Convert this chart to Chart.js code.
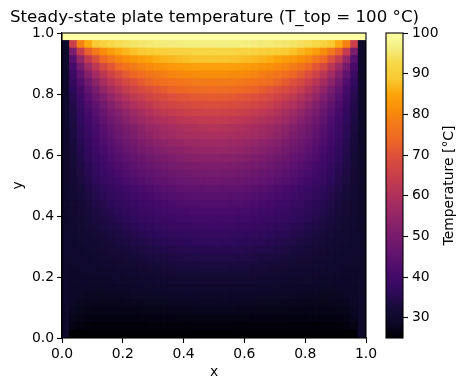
<!DOCTYPE html>
<html>
<head>
<meta charset="utf-8">
<style>
html,body{margin:0;padding:0;background:#fff;width:467px;height:390px;overflow:hidden}
canvas{position:absolute;left:0;top:0}
</style>
<script src="https://cdn.jsdelivr.net/npm/chart.js@4"></script>
</head>
<body>
<canvas id="plate" width="467" height="390"></canvas>
<canvas id="bar" width="467" height="390"></canvas>
<script>
// Values: one list per row (top to bottom), left half of the plate;
// the plate is mirror-symmetric about x = 0.5.
const r00=[100,100,100,100,100,100,100,100,100,100,100,100,100,100,100,100,100,100,100,100];
const r01=[30,65,79,85.5,89,91,92.5,93.3,94,94.6,95,95.3,95.6,95.8,96,96.2,96.4,96.4,96.5,96.5];
const r02=[30,50.5,64,72.5,77.5,81,83.5,85.5,86.8,87.9,88.9,89.5,90,90.5,91,91.3,91.4,91.6,91.7,91.7];
const r03=[30,44,55,63.5,69,73.7,76.9,79.5,81.2,82.7,83.7,85,85.8,86.5,87,87.4,87.8,88.1,88.2,88.3];
const r04=[30,40.7,49.2,57,62.5,67.3,70.8,73.8,76.4,77.8,79.5,80.4,81.5,82.1,82.8,83.3,83.7,83.9,84.1,84.2];
const r05=[30,38.6,45.5,52.4,57.5,62.1,65.8,68.8,71.5,73.5,75.1,76.7,77.7,78.6,79.5,80,80.5,80.7,81,81.1];
const r06=[30,37,42.8,48.7,53.5,58,61.7,64.9,67.5,69.8,71.6,73.1,74.6,75.4,76.2,76.7,77.3,77.6,77.8,77.9];
const r07=[30,36,40.8,46.1,50.1,54.6,58,61,63.8,65.9,68,69.3,70.8,71.9,72.8,73.5,74,74.3,74.5,74.7];
const r08=[30,35,39.2,43.8,47.6,51.4,54.7,57.7,60.3,62.7,64.4,65.9,67.4,68.4,69.5,70.3,70.6,71.2,71.5,71.6];
const r09=[30,34.5,38,42.1,45.5,49,52.1,54.8,57.5,59.6,61.6,63,64.6,65.8,66.8,67.4,67.9,68.4,68.7,68.8];
const r10=[30,34,36.8,40.7,43.6,46.9,49.8,52.3,54.6,56.9,58.4,60.2,61.5,62.8,63.6,64.5,65,65.6,65.8,66];
const r11=[30,33.6,36.5,39.9,42.4,45.5,48,50.3,52.5,54.6,56.2,57.7,59.1,60.1,61,61.7,62.3,62.9,63.3,63.5];
const r12=[30,33.2,35.9,38.8,41.1,43.7,46.3,48.5,50.4,52.2,54,55.3,56.6,57.6,58.5,59.3,59.9,60.3,60.7,60.8];
const r13=[30,32.9,35.7,38.3,40.8,43.2,45.6,47.5,49.5,50.9,52.7,54.1,55.5,56.4,57.2,57.8,58.4,58.8,59.1,59.2];
const r14=[30,32.7,35.2,37.5,39.8,41.9,44,45.9,47.9,49.2,50.8,52.1,53.1,54.1,54.9,55.6,56.2,56.5,56.8,56.9];
const r15=[30,32.4,34.7,36.8,38.9,40.9,42.9,44.6,46.3,47.7,49.1,50.3,51.3,52.3,53.1,53.6,54.2,54.6,54.9,55];
const r16=[30,32.2,34.2,36.2,38.1,39.8,41.7,43.3,44.7,46.1,47.3,48.5,49.5,50.4,51,51.7,52.3,52.6,52.9,53];
const r17=[30,32,33.8,35.6,37.3,39,40.6,42.1,43.4,44.6,46,47,47.8,48.6,49.4,49.9,50.4,50.7,51,51.1];
const r18=[30,31.8,33.5,35,36.7,38.2,39.6,40.9,42.2,43.4,44.5,45.5,46.4,47,47.7,48.2,48.7,49.1,49.3,49.4];
const r19=[30,31.7,33.2,34.6,36,37.4,38.7,40,41.1,42.2,43.2,44.1,44.8,45.7,46.3,46.8,47.2,47.5,47.7,47.8];
const r20=[30,31.3,32.5,33.8,35,36.1,37.3,38.3,39.3,40.4,41.2,42.1,42.9,43.6,44.1,44.7,45.1,45.4,45.6,45.7];
const r21=[30,31.1,32.3,33.4,34.5,35.5,36.6,37.5,38.4,39.4,40.1,40.9,41.6,42.3,42.8,43.3,43.6,44,44.1,44.2];
const r22=[30,31,32,32.9,33.9,34.9,35.8,36.6,37.4,38.3,39,39.7,40.3,40.9,41.4,41.8,42.2,42.4,42.6,42.7];
const r23=[30,30.9,31.7,32.6,33.4,34.3,35.1,35.8,36.6,37.3,38,38.7,39.2,39.7,40.2,40.5,40.8,41.1,41.2,41.3];
const r24=[30,30.7,31.5,32.2,33,33.7,34.5,35.1,35.8,36.4,37,37.6,38.1,38.5,38.9,39.3,39.5,39.8,39.9,39.9];
const r25=[30,30.6,31.2,31.9,32.5,33.2,33.8,34.3,35,35.5,36.1,36.6,37.1,37.5,37.8,38.2,38.3,38.6,38.7,38.8];
const r26=[30,30.4,31,31.5,32.1,32.5,33.1,33.6,34.1,34.6,35.1,35.6,36,36.3,36.6,36.9,37.1,37.3,37.4,37.5];
const r27=[30,30.3,30.7,31.1,31.5,32.1,32.5,33,33.4,33.9,34.3,34.7,35.1,35.4,35.6,35.9,36,36.2,36.3,36.4];
const r28=[30,30.1,30.4,30.8,31.1,31.6,32,32.3,32.7,33.1,33.5,33.8,34.1,34.4,34.6,34.9,35,35.1,35.3,35.3];
const r29=[30,29.9,30.2,30.4,30.7,31,31.3,31.7,32,32.3,32.6,32.9,33.2,33.4,33.7,33.8,34,34.2,34.2,34.2];
const r30=[30,29.7,29.9,30.1,30.3,30.5,30.7,31,31.2,31.5,31.8,32,32.3,32.5,32.7,32.9,32.9,33.1,33.2,33.2];
const r31=[30,29.6,29.6,29.7,29.8,29.9,30.2,30.3,30.5,30.8,31,31.2,31.4,31.6,31.8,31.9,32.1,32.1,32.2,32.2];
const r32=[30,29.4,29.3,29.3,29.4,29.4,29.6,29.7,29.8,30,30.2,30.4,30.6,30.7,30.9,31,31.1,31.2,31.3,31.2];
const r33=[30,29.2,29,28.9,28.8,28.9,29,29.1,29.2,29.4,29.5,29.7,29.9,29.9,30.1,30.1,30.2,30.3,30.4,30.4];
const r34=[30,29,28.6,28.4,28.3,28.2,28.3,28.4,28.5,28.6,28.8,28.8,28.9,29,29.2,29.2,29.3,29.3,29.4,29.4];
const r35=[30,28.7,28.1,27.9,27.8,27.7,27.7,27.7,27.8,27.9,28,28.1,28.1,28.2,28.3,28.3,28.4,28.5,28.5,28.5];
const r36=[30,28.3,27.6,27.3,27.1,27.1,27,27.1,27.1,27.1,27.2,27.3,27.3,27.4,27.4,27.5,27.5,27.6,27.6,27.6];
const r37=[30,27.6,26.9,26.6,26.4,26.4,26.4,26.4,26.4,26.4,26.5,26.5,26.6,26.6,26.6,26.7,26.7,26.7,26.7,26.7];
const r38=[30,26.8,26.1,25.8,25.7,25.7,25.7,25.7,25.7,25.7,25.7,25.8,25.8,25.8,25.8,25.8,25.8,25.9,25.9,25.9];
const r39=[30,25,25,25,25,25,25,25,25,25,25,25,25,25,25,25,25,25,25,25];
const rowsTopDown=[r00,r01,r02,r03,r04,r05,r06,r07,r08,r09,r10,r11,r12,r13,r14,r15,r16,r17,r18,r19,
                   r20,r21,r22,r23,r24,r25,r26,r27,r28,r29,r30,r31,r32,r33,r34,r35,r36,r37,r38,r39];
const axisTicks=[0,0.2,0.4,0.6,0.8,1];
const barTicks=[30,40,50,60,70,80,90,100];
const vmin=25, vmax=100;
const chartTitle="Steady-state plate temperature (T_top = 100 °C)";
const barLabel="Temperature [°C]";
const infernoStops=["#000004","#0c0826","#160b39","#2f0a5b","#420a68","#57106e","#6a176e","#7e1e6c","#932667","#a82e5f","#bc3754","#cf4446","#dd513a","#ed6925","#f37819","#f98e09","#fca50a","#f9c932","#f6d746","#f3ee80","#fcffa4"];

const FONT="'DejaVu Sans'";
function hex(c){return [1,3,5].map(k=>parseInt(c.substr(k,2),16));}
function inferno(t){
  t=Math.max(0,Math.min(1,t));
  const p=t*(infernoStops.length-1), i=Math.min(Math.floor(p),infernoStops.length-2), f=p-i;
  const a=hex(infernoStops[i]), b=hex(infernoStops[i+1]);
  return "rgb("+a.map((v,k)=>Math.round(v+(b[k]-v)*f)).join(",")+")";
}
const n=rowsTopDown.length;
const cells=[];
rowsTopDown.forEach((row,r)=>{
  const full=row.concat(row.slice().reverse());
  full.forEach((v,c)=>cells.push({x:(c+0.5)/n,y:1-(r+0.5)/n,v:v}));
});
const frame={id:"frame",afterDraw(ch){
  const a=ch.chartArea,c=ch.ctx;
  c.save();c.strokeStyle="#000";c.lineWidth=1.1;
  c.strokeRect(a.left,a.top,a.right-a.left,a.bottom-a.top);c.restore();
}};
const tickFont={family:FONT,size:13.9};
const cellRadius=ctx=>{const a=ctx.chart.chartArea;return a?((a.right-a.left)/n+1.1)/Math.SQRT2:5;};
new Chart(document.getElementById("plate"),{
  type:"scatter",
  data:{datasets:[{
    data:cells,
    clip:0,
    pointStyle:"rect",
    pointBorderWidth:0,
    pointRadius:cellRadius,
    pointHoverRadius:cellRadius,
    pointBackgroundColor(ctx){const d=ctx.raw;return d?inferno((d.v-vmin)/(vmax-vmin)):"#000";}
  }]},
  options:{
    responsive:false,animation:false,events:[],
    layout:{padding:{left:10,right:0,top:0,bottom:0}},
    plugins:{legend:{display:false},tooltip:{enabled:false},
      title:{display:true,text:chartTitle,align:"start",color:"#000",
        font:{family:FONT,size:16.67,weight:"normal"},padding:{top:8,bottom:5}}},
    scales:{
      x:{type:"linear",min:0,max:1,
        afterBuildTicks(s){s.ticks=axisTicks.map(v=>({value:v}));},
        afterFit(s){s.height=52;},
        grid:{drawOnChartArea:false,drawTicks:true,tickLength:5,tickColor:"#000",tickWidth:1.1},
        border:{color:"#000",width:1.1},
        ticks:{color:"#000",font:tickFont,padding:3,maxRotation:0,autoSkip:false,callback:v=>v.toFixed(1)},
        title:{display:true,text:"x",color:"#000",font:tickFont,padding:{top:0,bottom:9}}},
      y:{type:"linear",min:0,max:1,
        afterBuildTicks(s){s.ticks=axisTicks.map(v=>({value:v}));},
        afterFit(s){s.width=52;},
        grid:{drawOnChartArea:false,drawTicks:true,tickLength:5,tickColor:"#000",tickWidth:1.1},
        border:{color:"#000",width:1.1},
        ticks:{color:"#000",font:tickFont,padding:3,autoSkip:false,callback:v=>v.toFixed(1)},
        title:{display:true,text:"y",color:"#000",font:tickFont,padding:{top:0,bottom:0}}},
      gutter:{type:"linear",position:"right",display:true,
        afterFit(s){s.width=101;},
        grid:{display:false},border:{display:false},ticks:{display:false}}
    }
  },
  plugins:[frame]
});
const barTitle={id:"barTitle",afterDraw(ch){
  const a=ch.chartArea,c=ch.ctx;
  c.save();c.translate(449,(a.top+a.bottom)/2);c.rotate(-Math.PI/2);
  c.font="13.9px "+FONT;c.fillStyle="#000";c.textAlign="center";c.textBaseline="middle";
  c.fillText(barLabel,0,0);c.restore();
}};
new Chart(document.getElementById("bar"),{
  type:"bar",
  data:{labels:[""],datasets:[{
    data:[[vmin,vmax]],
    categoryPercentage:1,barPercentage:1,borderWidth:0,
    backgroundColor(ctx){
      const a=ctx.chart.chartArea; if(!a) return "#000";
      const g=ctx.chart.ctx.createLinearGradient(0,a.bottom,0,a.top);
      infernoStops.forEach((s,i)=>g.addColorStop(i/(infernoStops.length-1),s));
      return g;
    }
  }]},
  options:{
    responsive:false,animation:false,events:[],
    layout:{padding:{left:386,right:0,top:33,bottom:52}},
    plugins:{legend:{display:false},tooltip:{enabled:false},title:{display:false}},
    scales:{
      x:{display:false},
      y:{type:"linear",position:"right",min:vmin,max:vmax,
        afterBuildTicks(s){s.ticks=barTicks.map(v=>({value:v}));},
        afterFit(s){s.width=64;},
        grid:{drawOnChartArea:false,drawTicks:true,tickLength:5,tickColor:"#000",tickWidth:1.1},
        border:{display:false},
        ticks:{color:"#000",font:tickFont,padding:4,autoSkip:false}}
    }
  },
  plugins:[frame,barTitle]
});
</script>
</body>
</html>
